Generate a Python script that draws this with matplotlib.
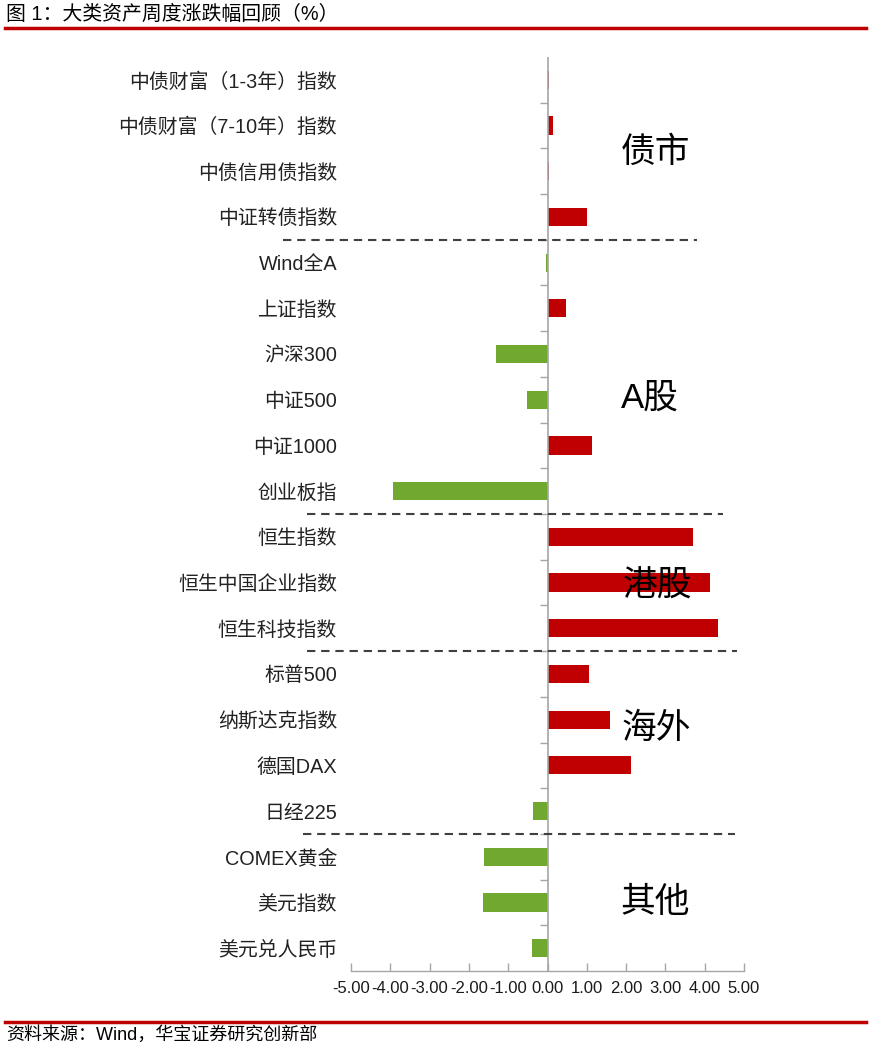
import matplotlib.pyplot as plt
import numpy as np

# 数据
categories = ['中债财富（1-3年）指数', '中债财富（7-10年）指数', '中债信用债指数', '中证转债指数',
              'Wind全A', '上证指数', '沪深300', '中证500', '中证1000', '创业板指',
              '恒生指数', '恒生中国企业指数', '恒生科技指数',
              '标普500', '纳斯达克指数', '德国DAX', '日经225',
              'COMEX黄金', '美元指数', '美元兑人民币']
values = [0.04, 0.15, 0.03, 1.00,
          -0.05, 0.47, -1.31, -0.52, 1.13, -3.94,
          3.70, 4.13, 4.34,
          1.06, 1.59, 2.12, -0.37,
          -1.62, -1.64, -0.39]
groups = ['债市', 'A股', '港股', '海外', '其他']
xticks = [-5, -4, -3, -2, -1, 0, 1, 2, 3, 4, 5]

cjk = ['Liberation Sans', 'Noto Sans CJK SC']
plt.rcParams['font.family'] = cjk

red = '#C00000'
green = '#70A830'
grey = '#A6A6A6'

fig = plt.figure(figsize=(8.72, 10.5), dpi=100)
ax = fig.add_axes([351 / 872, 1 - 971 / 1050, 393 / 872, 914 / 1050])

y = np.arange(len(categories))
colors = [red if v >= 0 else green for v in values]
ax.barh(y, values, height=0.4, color=colors, zorder=3)

ax.set_ylim(len(categories) - 0.5, -0.5)
ax.set_xlim(-5, 5)

# 类别标签
ax.set_yticks(y)
ax.set_yticklabels(categories, fontsize=14.3, color='#222222')
ax.tick_params(axis='y', length=0, pad=10)

# x轴
ax.set_xticks(xticks)
ax.set_xticklabels(['%.2f' % t for t in xticks], fontsize=12, color='#1a1a1a')
ax.tick_params(axis='x', direction='in', length=6, width=1, color=grey, pad=7)

for s in ['top', 'right', 'left']:
    ax.spines[s].set_visible(False)
ax.spines['bottom'].set_color(grey)
ax.spines['bottom'].set_linewidth(1)

# 零轴及其刻度
ax.axvline(0, color=grey, lw=1.2, zorder=4)
ax.hlines(y[:-1] + 0.5, -0.2, 0, color=grey, lw=1, zorder=4)

# 分隔虚线
seps = [(3.5, -6.73, 3.80), (9.5, -6.12, 4.47), (12.5, -6.12, 4.82), (16.5, -6.22, 4.77)]
for yy, x0, x1 in seps:
    ax.plot([x0, x1], [yy, yy], color='#404040', lw=1.5, ls=(0, (4, 2.8)),
            clip_on=False, zorder=5)

# 分组标签
group_pos = [(2.74, 1.58), (2.6, 6.96), (2.79, 11.08), (2.76, 14.19), (2.74, 18.0)]
for g, (gx, gy) in zip(groups, group_pos):
    ax.text(gx, gy, g, fontsize=25, ha='center', va='center', zorder=6)

# 标题与来源
fig.text(6 / 872, 1 - 14 / 1050, '图 1：大类资产周度涨跌幅回顾（%）', fontsize=14.3,
         ha='left', va='center', family=cjk)
fig.add_artist(plt.Line2D([5 / 872, 866 / 872], [1 - 28 / 1050] * 2, color=red, lw=2.5))
fig.add_artist(plt.Line2D([5 / 872, 866 / 872], [1 - 1022 / 1050] * 2, color=red, lw=2.5))
fig.text(6 / 872, 1 - 1035 / 1050, '资料来源：Wind，华宝证券研究创新部', fontsize=13,
         ha='left', va='center', family=cjk)

fig.savefig('out.png', dpi=100)
